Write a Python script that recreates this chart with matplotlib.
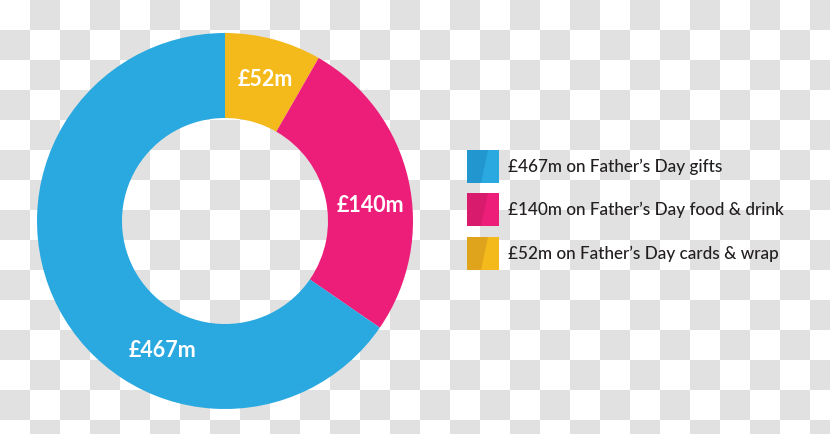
import numpy as np
import matplotlib
matplotlib.use("Agg")
import matplotlib.pyplot as plt
from matplotlib.patches import Rectangle, Polygon

# ---- data ----
categories = ["cards & wrap", "food & drink", "gifts"]
amounts = [52, 140, 467]                 # £m, as labelled
shares = [8.3, 26.3, 65.4]               # wedge sizes as drawn (% of circle)
colors = ["#f4b91a", "#ec1e79", "#2aa9e0"]
dark_colors = ["#dfa41c", "#d81b6c", "#2196cf"]
legend_order = [2, 1, 0]

W, H = 830, 434
fig = plt.figure(figsize=(W / 100, H / 100), dpi=100)

# checkerboard background (transparency pattern)
bg = fig.add_axes([0, 0, 1, 1])
cell = 30
ny, nx = int(np.ceil(H / cell)), int(np.ceil(W / cell))
board = (np.add.outer(np.arange(ny), np.arange(nx)) % 2).astype(float)
bg.imshow(board, cmap=matplotlib.colors.ListedColormap(["#ffffff", "#e1e1e1"]),
          extent=(0, nx * cell, ny * cell, 0), interpolation="nearest")
bg.set_xlim(0, W)
bg.set_ylim(H, 0)
bg.axis("off")

# donut
cx, cy, R = 225, 221, 188
ax = fig.add_axes([(cx - R) / W, (H - cy - R) / H, 2 * R / W, 2 * R / H])
wedges, _ = ax.pie(shares, colors=colors, startangle=90, counterclock=False,
                   radius=1, wedgeprops=dict(width=1 - 103 / 188, linewidth=0))
ax.set_xlim(-1, 1)
ax.set_ylim(-1, 1)
ax.set_aspect("equal")
ax.axis("off")

label_pos = [(0.213, 0.755), (0.771, 0.085), (-0.335, -0.691)]
for amt, (lx, ly) in zip(amounts, label_pos):
    ax.text(lx, ly, f"£{amt}m", color="white", fontsize=15.5, fontweight="bold",
            family=["Lato", "DejaVu Sans"], ha="center", va="center")

# legend
lg = fig.add_axes([0, 0, 1, 1])
lg.set_xlim(0, W)
lg.set_ylim(H, 0)
lg.axis("off")
lx0, sq_w, sq_h = 467, 32, 33
tops = [150, 193, 237]
for top, idx in zip(tops, legend_order):
    lg.add_patch(Rectangle((lx0, top), sq_w, sq_h, facecolor=colors[idx], linewidth=0))
    lg.add_patch(Polygon([(lx0, top), (lx0 + 21, top), (lx0 + 14, top + sq_h),
                          (lx0, top + sq_h)], closed=True,
                         facecolor=dark_colors[idx], linewidth=0))
    lg.text(508, top + sq_h / 2, f"£{amounts[idx]}m on Father’s Day {categories[idx]}",
            fontsize=12.3, color="#231f20", family=["Lato", "DejaVu Sans"],
            fontweight="medium", ha="left", va="center")

fig.savefig("out.png", dpi=100)
